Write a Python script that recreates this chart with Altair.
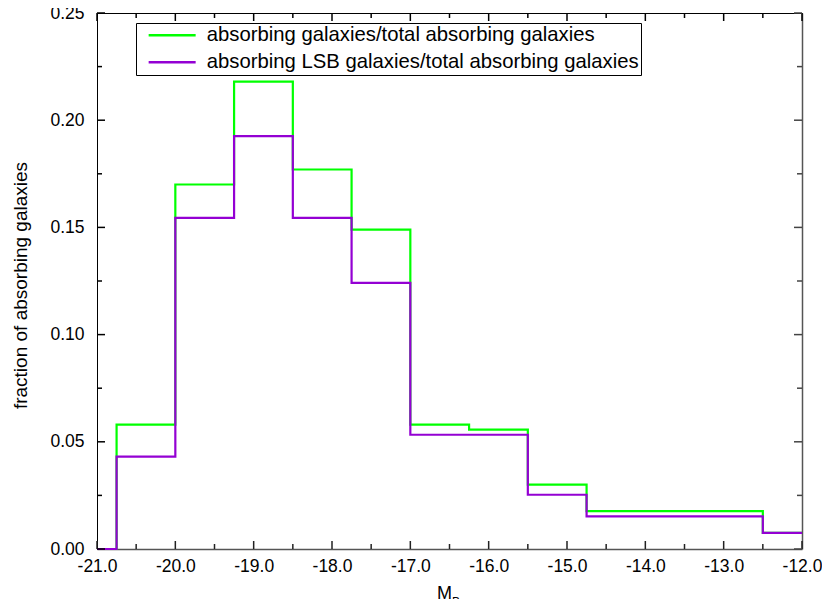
import altair as alt
import pandas as pd

# ---- data ----
green_label = "absorbing galaxies/total absorbing galaxies"
purple_label = "absorbing LSB galaxies/total absorbing galaxies"

green_edges = [-21.0, -20.75, -20.0, -19.25, -18.5, -17.75, -17.0, -16.25, -15.5, -14.75, -12.5, -12.0]
green_vals = [0.0, 0.058, 0.170, 0.218, 0.177, 0.149, 0.058, 0.0557, 0.030, 0.0177, 0.0075, 0.0075]

purple_edges = [-21.0, -20.75, -20.0, -19.25, -18.5, -17.75, -17.0, -15.5, -14.75, -12.5, -12.0]
purple_vals = [0.0, 0.0431, 0.1544, 0.1926, 0.1544, 0.1241, 0.0533, 0.0253, 0.0152, 0.0075, 0.0075]

x_major_ticks = [-21.0, -20.0, -19.0, -18.0, -17.0, -16.0, -15.0, -14.0, -13.0, -12.0]
x_minor_ticks = [-20.5, -19.5, -18.5, -17.5, -16.5, -15.5, -14.5, -13.5, -12.5]
y_major_ticks = [0.0, 0.05, 0.10, 0.15, 0.20, 0.25]
y_minor_ticks = [0.025, 0.075, 0.125, 0.175, 0.225]

green_color = "#00ff00"
purple_color = "#9400d3"

green_df = pd.DataFrame({"MB": green_edges, "frac": green_vals, "series": green_label})
purple_df = pd.DataFrame({"MB": purple_edges, "frac": purple_vals, "series": purple_label})
sub_df = pd.DataFrame({"t": ["B"]})

FONT = "Liberation Sans"
W, H = 705, 536
MAJOR, MINOR = 8, 5

x_scale = alt.Scale(domain=[-21, -12], nice=False, zero=False)
y_scale = alt.Scale(domain=[0, 0.25], nice=False, zero=False)
color_scale = alt.Scale(domain=[green_label, purple_label], range=[green_color, purple_color])

legend = alt.Legend(
    orient="none", legendX=39, legendY=10, title=None,
    symbolType="M-4.7,0H4.7", symbolSize=100, symbolStrokeWidth=2.5,
    symbolOffset=24, labelOffset=24.5,
    labelFont=FONT, labelFontSize=20.3, labelColor="black", labelLimit=900,
    strokeColor="black", fillColor="white", padding=2, rowPadding=6,
)
color = alt.Color("series:N", scale=color_scale, legend=legend)

x_bottom = alt.X("MB:Q", scale=x_scale, title="M",
                 axis=alt.Axis(orient="bottom", values=x_major_ticks, grid=False, ticks=False,
                               labelExpr="replace(format(datum.value, '.1f'), '\u2212', '-')",
                               labelOverlap=False, labelFlush=False, labelPadding=8,
                               domainColor="#555555", domainWidth=1.5,
                               labelFont=FONT, labelFontSize=17.5, labelColor="black",
                               titleFont=FONT, titleFontSize=18, titleFontWeight="normal",
                               titleColor="black", titleX=347, titleY=49,
                               titleAlign="center", titleBaseline="alphabetic"))
y_left = alt.Y("frac:Q", scale=y_scale, title="fraction of absorbing galaxies",
               axis=alt.Axis(orient="left", values=y_major_ticks, grid=False, ticks=False,
                             format=".2f", labelOverlap=False, labelFlush=False, labelPadding=13,
                             domainColor="black", domainWidth=1,
                             labelFont=FONT, labelFontSize=17.5, labelColor="black",
                             titleFont=FONT, titleFontSize=19, titleFontWeight="normal",
                             titleColor="black", titleAngle=-90, titleX=-77, titleY=272,
                             titleAlign="center", titleBaseline="middle"))
x_top = alt.X("MB:Q", scale=x_scale, title=None,
              axis=alt.Axis(orient="top", grid=False, ticks=False, labels=False,
                            domainColor="black", domainWidth=1))
y_right = alt.Y("frac:Q", scale=y_scale, title=None,
                axis=alt.Axis(orient="right", grid=False, ticks=False, labels=False,
                              domainColor="#555555", domainWidth=1.5))

green_layer = alt.Chart(green_df).mark_line(interpolate="step-after", strokeWidth=2.2).encode(
    x=x_bottom, y=y_left, color=color)
purple_layer = alt.Chart(purple_df).mark_line(interpolate="step-after", strokeWidth=2.2).encode(
    x=x_top, y=y_right, color=color)


# inward-pointing ticks, placed by the same x / y scales
def x_ticks_layer(values, y_from, y_to, col):
    df = pd.DataFrame({"pos": values})
    return alt.Chart(df).mark_rule(color=col, strokeWidth=1.5, opacity=1).encode(
        x=alt.X("pos:Q", scale=x_scale, axis=None),
        y=alt.value(y_from), y2=alt.value(y_to))


def y_ticks_layer(values, x_from, x_to, col):
    df = pd.DataFrame({"pos": values})
    return alt.Chart(df).mark_rule(color=col, strokeWidth=1.5, opacity=1).encode(
        y=alt.Y("pos:Q", scale=y_scale, axis=None),
        x=alt.value(x_from), x2=alt.value(x_to))


tick_layers = [
    x_ticks_layer(x_major_ticks, H, H - MAJOR, "#222222"),
    x_ticks_layer(x_minor_ticks, H, H - MINOR, "#222222"),
    x_ticks_layer(x_major_ticks, 0, MAJOR, "#000000"),
    x_ticks_layer(x_minor_ticks, 0, MINOR, "#000000"),
    y_ticks_layer(y_major_ticks, 0, MAJOR, "#000000"),
    y_ticks_layer(y_minor_ticks, 0, MINOR, "#000000"),
    y_ticks_layer(y_major_ticks, W, W - MAJOR, "#444444"),
    y_ticks_layer(y_minor_ticks, W, W - MINOR, "#444444"),
]

sub_layer = alt.Chart(sub_df).mark_text(font=FONT, fontSize=12, align="left", baseline="top",
                                        color="black").encode(
    x=alt.value(355), y=alt.value(584), text="t:N")

chart = alt.layer(green_layer, purple_layer, *tick_layers, sub_layer).resolve_axis(
    x="independent", y="independent"
).properties(
    width=W, height=H,
    padding={"left": 89, "top": 5, "right": 20, "bottom": 50},
    autosize=alt.AutoSizeParams(type="none"),
    background="white",
).configure_view(stroke=None)

chart.save("out.html", embed_options={"renderer": "svg", "actions": False})
